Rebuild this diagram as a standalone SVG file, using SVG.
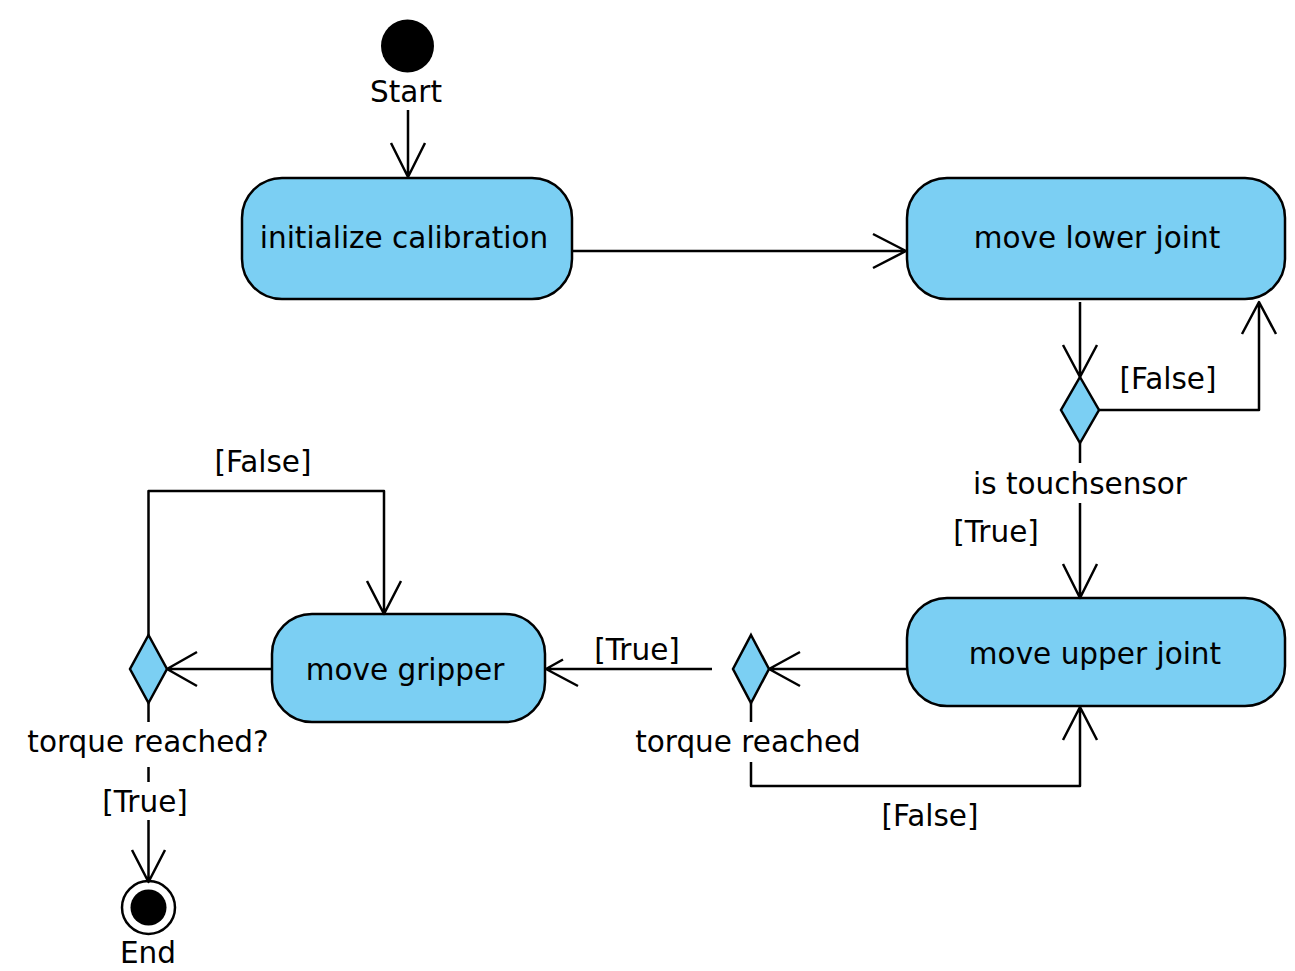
<svg xmlns="http://www.w3.org/2000/svg" width="1295" height="971" viewBox="0 0 1295 971">
<style>
.n{fill:#7bcff3;stroke:#000;stroke-width:2.5}
.c{fill:none;stroke:#000;stroke-width:2.5;stroke-linejoin:round}
text{font-family:"DejaVu Sans",sans-serif;font-size:29.5px;fill:#000;text-anchor:middle}
</style>
<rect width="1295" height="971" fill="#fff"/>
<g id="start"><circle cx="407.5" cy="46" r="26.5" fill="#000"/><text x="406" y="102">Start</text></g>
<g id="init"><rect class="n" x="242" y="178" width="330" height="121" rx="40"/><text x="404" y="248">initialize calibration</text></g>
<g id="lower"><rect class="n" x="907" y="178" width="378" height="121" rx="40"/><text x="1097" y="248">move lower joint</text></g>
<g id="upper"><rect class="n" x="907" y="598" width="378" height="108" rx="40"/><text x="1095" y="664">move upper joint</text></g>
<g id="gripper"><rect class="n" x="272" y="614" width="273" height="108" rx="40"/><text x="405" y="680">move gripper</text></g>
<g id="d1"><polygon class="n" points="1080,377 1099,410 1080,443 1061,410"/><text x="1080" y="494">is touchsensor</text></g>
<g id="d2"><polygon class="n" points="751,635 769,669 751,703 733,669"/><text x="748" y="752">torque reached</text></g>
<g id="d3"><polygon class="n" points="148.5,635 167,669 148.5,703 130,669"/><text x="148" y="752">torque reached?</text></g>
<g id="end"><circle cx="148.5" cy="907.5" r="26.5" fill="#fff" stroke="#000" stroke-width="2.5"/><circle cx="148.5" cy="907.5" r="18" fill="#000"/><text x="148" y="963">End</text></g>
<g id="connectors">
<path class="c" d="M408,110 V177 M391,143 L408,177 L425,143"/>
<path class="c" d="M572,251 H906 M873,234 L906,251 L873,268"/>
<path class="c" d="M1080,302 V376 M1063,345 L1080,377 L1097,345"/>
<path class="c" d="M1099,410 H1259 V303 M1242,334 L1259,302 L1276,334"/>
<text x="1168" y="389">[False]</text>
<path class="c" d="M1080,443 V463 M1080,503 V597 M1063,564 L1080,598 L1097,564"/>
<text x="996" y="542">[True]</text>
<path class="c" d="M907,669 H770 M800,652 L769,669 L800,686"/>
<path class="c" d="M712,669 H546 M578,686 L546,669 L563,659.5"/>
<text x="637" y="660">[True]</text>
<path class="c" d="M751,703 V722 M751,762 V786 H1080 V707 M1063,740 L1080,707 L1097,740"/>
<text x="930" y="826">[False]</text>
<path class="c" d="M272,669 H168 M197,652 L167,669 L197,686"/>
<path class="c" d="M148.5,635 V491 H384 V613 M367,581 L384,614 L401,581"/>
<text x="263" y="472">[False]</text>
<path class="c" d="M148.5,703 V722 M148.5,767 V782 M148.5,820 V880 M132,850 L148.5,882 L165,850"/>
<text x="145" y="812">[True]</text>
</g>
</svg>
